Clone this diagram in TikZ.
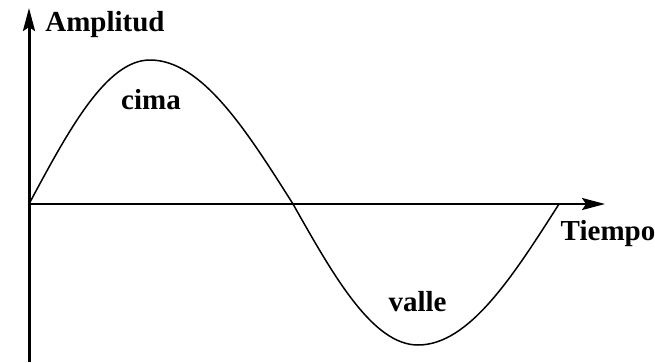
\documentclass[tikz,border=0pt]{standalone}
\usepackage{fontspec}
\setmainfont{Liberation Serif}
\usetikzlibrary{arrows.meta}
\tikzset{
  lbl/.style={font=\fontsize{29}{31}\selectfont\bfseries, inner sep=0pt, anchor=base},
  axis/.style={draw=black, -{Stealth[length=23pt,width=12pt,inset=4pt]}},
  wave/.style={draw=black, line width=1.5pt}
}
\begin{document}
\begin{tikzpicture}[x=1pt,y=-1pt]
\useasboundingbox (0,0) rectangle (655,362);
\coordinate (o) at (29,204);
\coordinate (ybot) at (29,362);
\coordinate (ytop) at (29,8);
\coordinate (xend) at (605,204);
\coordinate (pk) at (150,60);
\coordinate (mid) at (293,204);
\coordinate (tr) at (418,345);
\coordinate (end) at (559,204);
\draw[axis, line width=3pt] (ybot) -- (ytop);
\draw[axis, line width=2.2pt] (o) -- (xend);
\draw[wave] (o) .. controls (68.5,130.3) and (106.2,60) .. (pk)
  .. controls (201.8,60) and (246.4,130.3) .. (mid)
  .. controls (333.75,276.2) and (372.75,345) .. (tr)
  .. controls (469,345) and (513,276.2) .. (end);
\node[lbl] (amp) at (105,31) {Amplitud};
\node[lbl] (cima) at (151,109) {cima};
\node[lbl] (tiempo) at (608,240.7) {Tiempo};
\node[lbl] (valle) at (417.5,311.7) {valle};
\end{tikzpicture}
\end{document}
